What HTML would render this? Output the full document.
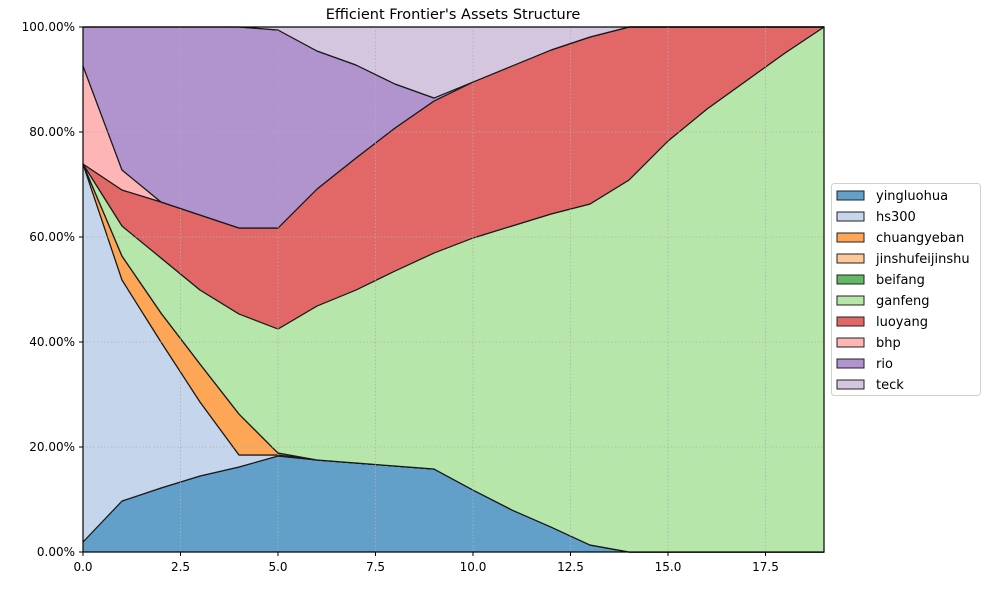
<!DOCTYPE html>
<html><head><meta charset="utf-8"><style>
body{margin:0;background:#fff;font-family:"Liberation Sans","DejaVu Sans",sans-serif;}
svg text{font-family:"DejaVu Sans","Liberation Sans",sans-serif;}
</style></head><body>
<svg id="s" width="993" height="588" xmlns="http://www.w3.org/2000/svg"></svg>
<script>
const X=i=>83+39*i;
const B0=Array(20).fill(552);
const B1=[542,501,488,476,467,456,460,463,466,469,490,510,527,545,552,552,552,552,552,552];
const B2=[164,280,342,402,455,455].concat(B1.slice(6));
const B3=[164,256,313,364,414,453].concat(B1.slice(6));
const B4=[164,226,258,290,314,329,306,290,271,253,238,226,214,204,180,141,109,81,53,27];
const B5=[164,190,202,215,228,228,189,158,128,101,82,66,50,37,27,27,27,27,27,27];
const B6=[66,170,202,215,228,228].concat(B5.slice(6));
const B7=[27,27,27,27,27,30,51,65,84,98].concat(B5.slice(10));
const B8=Array(20).fill(27);
const layers=[[B0,B1,'#62a0ca'],[B1,B2,'#c5d5ec'],[B2,B3,'#fda655'],[B3,B3,'#fdc99b'],[B3,B3,'#63b863'],[B3,B4,'#b6e6aa'],[B4,B5,'#e26868'],[B5,B6,'#feb5b5'],[B6,B7,'#b193cd'],[B7,B8,'#d5c6e0']];
let h='';
h+='<text x="453" y="19" font-size="14.5" text-anchor="middle">Efficient Frontier\'s Assets Structure</text>';
let grid='';
for(let k=0;k<=7;k++){const x=83+k*2.5*39;grid+=`<line x1="${x}" y1="27" x2="${x}" y2="552" stroke="#b0b0b0" stroke-dasharray="1.5,2" stroke-width="0.8"/>`;}
for(let k=0;k<=5;k++){const y=552-k*105;grid+=`<line x1="83" y1="${y}" x2="824" y2="${y}" stroke="#b0b0b0" stroke-dasharray="1.5,2" stroke-width="0.8"/>`;}
for(const [lo,hi,c] of layers){
 let p=[];for(let i=0;i<20;i++)p.push(X(i)+','+hi[i]);for(let i=19;i>=0;i--)p.push(X(i)+','+lo[i]);
 h+=`<polygon points="${p.join(' ')}" fill="${c}" stroke="#1a1a1a" stroke-width="1.2" stroke-linejoin="round"/>`;
}
h+=grid;
h+='<rect x="83" y="27" width="741" height="525" fill="none" stroke="#000" stroke-width="1"/>';
for(let k=0;k<=7;k++){const x=83+k*2.5*39;h+=`<line x1="${x}" y1="552" x2="${x}" y2="556" stroke="#000"/><text x="${x}" y="571" font-size="12" text-anchor="middle">${(k*2.5).toFixed(1)}</text>`;}
for(let k=0;k<=5;k++){const y=552-k*105;h+=`<line x1="79" y1="${y}" x2="83" y2="${y}" stroke="#000"/><text x="75" y="${y+4}" font-size="12" text-anchor="end">${(k*20).toFixed(2)}%</text>`;}
h+='<rect x="831.5" y="183.5" width="149" height="212" rx="3" fill="#fff" stroke="#d0d0d0"/>';
const names=['yingluohua','hs300','chuangyeban','jinshufeijinshu','beifang','ganfeng','luoyang','bhp','rio','teck'];
names.forEach((n,k)=>{const y=195+21*k;h+=`<rect x="837" y="${y-4}" width="27" height="9" fill="${layers[k][2]}" stroke="#222" stroke-width="1"/><text x="876" y="${y+5}" font-size="13">${n}</text>`;});
document.getElementById('s').innerHTML=h;
</script>
</body></html>
